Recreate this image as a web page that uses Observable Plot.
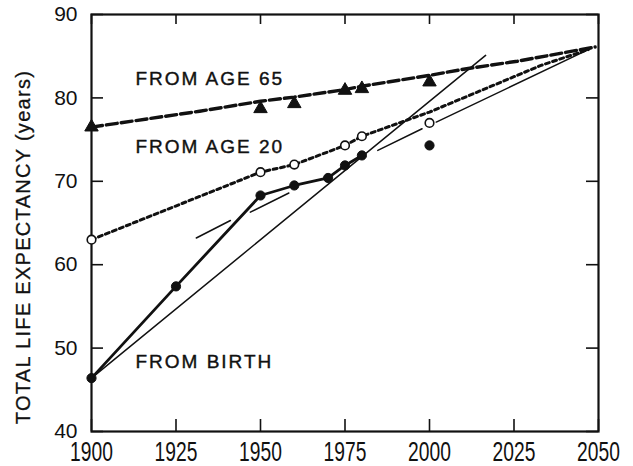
<!DOCTYPE html>
<html>
<head>
<meta charset="utf-8">
<script src="https://cdn.jsdelivr.net/npm/d3@7"></script>
<script src="https://cdn.jsdelivr.net/npm/@observablehq/plot@0.6"></script>
<style>
  html, body { margin: 0; padding: 0; background: #fff; }
</style>
</head>
<body>
<div id="chart"></div>
<script>
// ---- tick values ----
const xTicks = [1900, 1925, 1950, 1975, 2000, 2025, 2050];
const yTicks = [40, 50, 60, 70, 80, 90];
const yTitle = "TOTAL LIFE EXPECTANCY (years)";

// ---- From age 65 (triangles) ----
const age65Years = [1900, 1950, 1960, 1975, 1980, 2000];
const age65Values = [76.5, 78.7, 79.3, 80.9, 81.1, 81.9];
const age65TrendYears = [1900, 1932, 1950, 1960, 1975, 1980, 2000, 2011, 2026, 2049];
const age65TrendValues = [76.5, 78.4, 79.6, 80.1, 81.0, 81.4, 82.7, 83.5, 84.4, 86.1];

// ---- From age 20 (open circles) ----
const age20Years = [1900, 1950, 1960, 1975, 1980, 2000];
const age20Values = [63.0, 71.1, 72.0, 74.3, 75.4, 77.0];
const age20TrendYears = [1900, 1950, 1960, 1975, 1980, 2000, 2033, 2047];
const age20TrendValues = [63.0, 71.1, 72.0, 74.3, 75.4, 78.3, 83.9, 85.8];

// ---- From birth (filled circles) ----
const birthYears = [1900, 1925, 1950, 1960, 1970, 1975, 1980];
const birthValues = [46.4, 57.4, 68.3, 69.5, 70.4, 71.9, 73.1];
const birthProjYears = [2000];
const birthProjValues = [74.3];

// ---- thin projection lines ----
const steepYears = [1900, 2016.6];
const steepValues = [46.4, 85.1];
const longSegIds = ["a", "a", "b", "b", "c", "c", "d", "d"];
const longSegYears = [1931, 1941.1, 1947, 1958.4, 1984.7, 1997.8, 2002, 2047.6];
const longSegValues = [63.2, 65.3, 66.3, 68.6, 73.7, 76.3, 77.1, 85.9];

// ---- curve labels ----
const labelTexts = ["FROM AGE 65", "FROM AGE 20", "FROM BIRTH"];
const labelYears = [1913, 1913, 1913];
const labelValues = [81.5, 73.4, 47.6];

const zip = (xs, ys) => xs.map((x, i) => ({x, y: ys[i]}));
const age65 = zip(age65Years, age65Values);
const age65Trend = zip(age65TrendYears, age65TrendValues);
const age20 = zip(age20Years, age20Values);
const age20Trend = zip(age20TrendYears, age20TrendValues);
const birth = zip(birthYears, birthValues);
const birthProj = zip(birthProjYears, birthProjValues);
const steep = zip(steepYears, steepValues);
const longSegs = longSegYears.map((x, i) => ({x, y: longSegValues[i], id: longSegIds[i]}));
const labels = labelTexts.map((t, i) => ({t, x: labelYears[i], y: labelValues[i]}));

const W = 633, H = 466;
const mL = 91, mR = 35, mT = 14, mB = 35;
const fw = W - mL - mR, fh = H - mT - mB;
const ink = "#111";

const chart = Plot.plot({
  width: W,
  height: H,
  marginLeft: mL,
  marginRight: mR,
  marginTop: mT,
  marginBottom: mB,
  style: {background: "#fff", color: ink, fontFamily: "'Liberation Sans', Arial, sans-serif"},
  x: {domain: [1900, 2050]},
  y: {domain: [40, 90]},
  marks: [
    // inward ticks on all four sides
    Plot.gridY(yTicks, {stroke: ink, strokeOpacity: 1, strokeWidth: 1.6, insetRight: fw - 12}),
    Plot.gridY(yTicks, {stroke: ink, strokeOpacity: 1, strokeWidth: 1.6, insetLeft: fw - 12}),
    Plot.gridX(xTicks, {stroke: ink, strokeOpacity: 1, strokeWidth: 1.6, insetBottom: fh - 10}),
    Plot.gridX(xTicks, {stroke: ink, strokeOpacity: 1, strokeWidth: 1.6, insetTop: fh - 12}),
    Plot.frame({stroke: ink, strokeWidth: 2.2}),
    Plot.axisX(xTicks, {tickSize: 0, tickPadding: 10, label: null, fontSize: 26, stroke: ink, strokeWidth: 0.4, tickFormat: d => String(d)}),
    Plot.axisY(yTicks, {tickSize: 0, tickPadding: 14, label: null, fontSize: 21, stroke: ink, strokeWidth: 0.4}),
    Plot.text([yTitle], {frameAnchor: "left", text: d => d, rotate: -90, textAnchor: "middle", lineAnchor: "middle", dx: -68, dy: 24, fontSize: 20, fill: ink, stroke: ink, strokeWidth: 0.3}),
    // thin projection lines
    Plot.line(steep, {x: "x", y: "y", stroke: ink, strokeWidth: 1.5}),
    Plot.line(longSegs, {x: "x", y: "y", z: "id", stroke: ink, strokeWidth: 1.5}),
    // from age 65
    Plot.line(age65Trend, {x: "x", y: "y", stroke: ink, strokeWidth: 3.4, strokeDasharray: "11,4"}),
    Plot.dot(age65, {x: "x", y: "y", symbol: "triangle", r: 5, fill: ink, stroke: ink, strokeWidth: 1}),
    // from age 20
    Plot.line(age20Trend, {x: "x", y: "y", stroke: ink, strokeWidth: 3, strokeDasharray: "4,3.5"}),
    Plot.dot(age20, {x: "x", y: "y", r: 4.3, fill: "#fff", stroke: ink, strokeWidth: 1.6}),
    // from birth
    Plot.line(birth, {x: "x", y: "y", stroke: ink, strokeWidth: 2.8}),
    Plot.dot(birth, {x: "x", y: "y", r: 4.6, fill: ink, stroke: ink, strokeWidth: 1}),
    Plot.dot(birthProj, {x: "x", y: "y", r: 4.6, fill: ink, stroke: ink, strokeWidth: 1}),
    // curve labels
    Plot.text(labels, {x: "x", y: "y", text: "t", textAnchor: "start", lineAnchor: "bottom", fontSize: 19, fill: ink, stroke: ink, strokeWidth: 0.4})
  ]
});

const svg = d3.select(chart);
// letter spacing for the curve labels and the y title
svg.selectAll("text").filter(function () { return labelTexts.includes(this.textContent); })
  .style("letter-spacing", "2px");
svg.selectAll("text").filter(function () { return this.textContent === yTitle; })
  .style("letter-spacing", "1.3px");
// condensed look for the year labels
const xLabelStrings = xTicks.map(String);
svg.selectAll("text").filter(function () { return xLabelStrings.includes(this.textContent); })
  .each(function () {
    const t = this.getAttribute("transform");
    if (t) {
      this.setAttribute("transform", t + " scale(0.74,1.08)");
    } else {
      const x = this.getAttribute("x") || 0, y = this.getAttribute("y") || 0;
      this.removeAttribute("x"); this.removeAttribute("y");
      this.setAttribute("transform", `translate(${x},${y}) scale(0.74,1.08)`);
    }
  });

document.getElementById("chart").appendChild(chart);
</script>
</body>
</html>
